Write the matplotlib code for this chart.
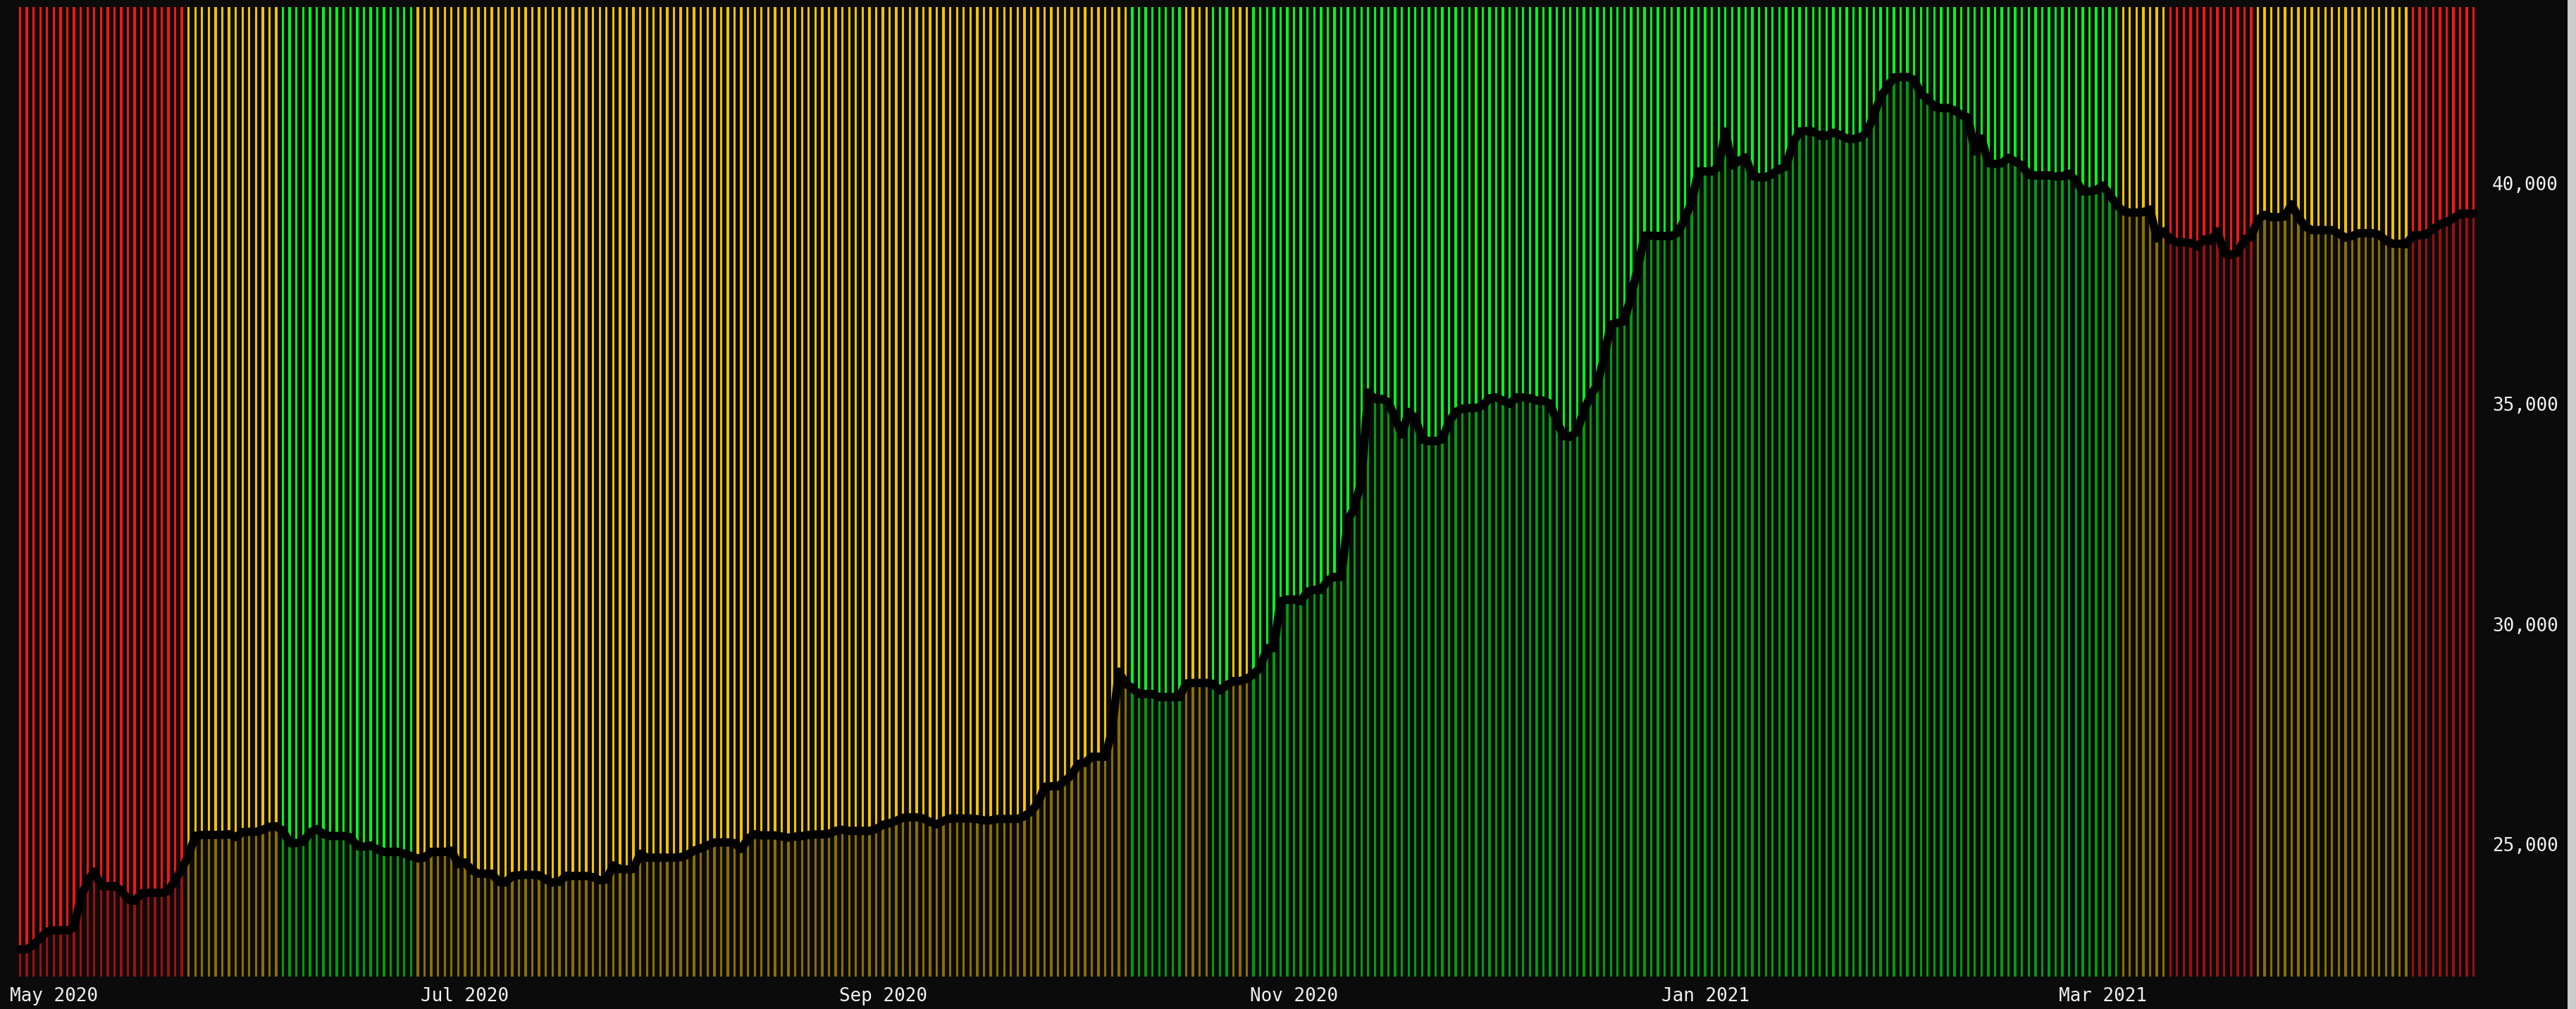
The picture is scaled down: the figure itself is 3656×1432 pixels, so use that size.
import numpy as np
import pandas as pd
import matplotlib
matplotlib.use("Agg")
import matplotlib.pyplot as plt
import matplotlib.dates as mdates
from matplotlib.patches import Rectangle

# ---------------- data ----------------
start_date = "2020-04-26"

values = [
    22620, 22620, 22720, 22880, 23020, 23050, 23050, 23050, 23110, 23800,
    24160, 24380, 24060, 24050, 24050, 23960, 23750, 23720, 23890, 23900,
    23900, 23900, 23940, 24190, 24440, 24760, 25195, 25215, 25215, 25215,
    25215, 25230, 25162, 25280, 25285, 25285, 25330, 25400, 25410, 25306,
    25029, 25029, 25056, 25269, 25349, 25231, 25189, 25189, 25189, 25162,
    24960, 24949, 24976, 24880, 24826, 24832, 24832, 24789, 24736, 24680,
    24698, 24831, 24831, 24831, 24858, 24549, 24591, 24415, 24335, 24335,
    24335, 24149, 24133, 24282, 24298, 24309, 24309, 24298, 24202, 24133,
    24149, 24288, 24282, 24282, 24282, 24255, 24186, 24202, 24522, 24442,
    24431, 24442, 24788, 24698, 24698, 24698, 24698, 24698, 24708, 24762,
    24858, 24911, 24975, 25044, 25044, 25044, 25028, 24895, 25135, 25231,
    25204, 25204, 25204, 25177, 25151, 25177, 25188, 25215, 25225, 25225,
    25241, 25305, 25332, 25305, 25305, 25305, 25305, 25348, 25444, 25481,
    25534, 25604, 25614, 25614, 25588, 25508, 25455, 25534, 25588, 25588,
    25588, 25588, 25572, 25545, 25545, 25577, 25577, 25577, 25577, 25641,
    25748, 25934, 26307, 26318, 26318, 26440, 26574, 26824, 26851, 26989,
    26989, 26989, 27586, 28919, 28652, 28545, 28412, 28412, 28412, 28343,
    28343, 28343, 28343, 28652, 28663, 28663, 28663, 28641, 28492, 28609,
    28705, 28705, 28756, 28866, 29013, 29454, 29454, 30518, 30555, 30555,
    30518, 30738, 30775, 30775, 30995, 31069, 31069, 32358, 32647, 33271,
    35253, 35106, 35106, 35033, 34666, 34301, 34813, 34666, 34189, 34152,
    34152, 34189, 34592, 34813, 34886, 34901, 34901, 34960, 35121, 35143,
    35069, 34996, 35143, 35143, 35121, 35069, 35069, 34996, 34592, 34262,
    34247, 34372, 34849, 35180, 35437, 36060, 36795, 36832, 36869, 37455,
    38079, 38813, 38813, 38805, 38805, 38805, 38885, 39204, 39577, 40270,
    40270, 40270, 40377, 41176, 40403, 40510, 40590, 40163, 40137, 40137,
    40217, 40323, 40377, 40909, 41176, 41186, 41176, 41080, 41080, 41149,
    41096, 41016, 41005, 41043, 41149, 41549, 41949, 42188, 42402, 42412,
    42412, 42348, 42028, 41922, 41735, 41709, 41709, 41655, 41549, 41496,
    40723, 41016, 40456, 40440, 40456, 40579, 40494, 40403, 40190, 40179,
    40179, 40179, 40153, 40163, 40217, 40057, 39817, 39817, 39844, 39950,
    39737, 39524, 39364, 39337, 39337, 39348, 39407, 38751, 38911, 38725,
    38661, 38661, 38645, 38565, 38725, 38698, 38911, 38405, 38378, 38432,
    38735, 38778, 39178, 39284, 39231, 39231, 39247, 39524, 39231, 39018,
    38938, 38938, 38938, 38938, 38858, 38767, 38805, 38869, 38869, 38869,
    38831, 38698, 38629, 38629, 38618, 38820, 38820, 38842, 38964, 39071,
    39124, 39204, 39311, 39311, 39311,
]

# regime of each day, as consecutive runs
regime_codes = ["R", "Y", "G", "Y", "G", "Y", "G", "Y", "G", "Y", "R", "Y", "R"]
regime_lengths = [25, 14, 20, 106, 8, 4, 3, 3, 129, 7, 13, 23, 10]

y_ticks = [25000, 30000, 35000, 40000]
y_range = (22000, 44000)

# ---------------- style ----------------
BG = "#0b0b0b"
BRIGHT = {"R": "#ff1414", "Y": "#f2c200", "G": "#00f81c"}
DARK = {"R": "#9c0f0f", "Y": "#8a6e00", "G": "#009a10"}
MONO = "DejaVu Sans Mono"

dates = pd.date_range(start_date, periods=len(values), freq="D")
regimes = np.repeat(regime_codes, regime_lengths)
x = mdates.date2num(dates.to_pydatetime())
v = np.array(values, dtype=float)

W, H, DPI = 3656, 1432, 100
fig = plt.figure(figsize=(W / DPI, H / DPI), dpi=DPI, facecolor=BG)
ax = fig.add_axes([26.6 / W, 46 / H, (3512.6 - 26.6) / W, 1376 / H])
ax.set_facecolor(BG)

bar_w = 0.35
ax.bar(x, y_range[1] - v, bottom=v, width=bar_w,
       color=[BRIGHT[r] for r in regimes], linewidth=0, zorder=1)
ax.bar(x, v - y_range[0], bottom=y_range[0], width=bar_w,
       color=[DARK[r] for r in regimes], linewidth=0, zorder=1)
ax.plot(x, v, color="black", lw=8.5, solid_joinstyle="round",
        solid_capstyle="round", zorder=3, clip_on=False)

ax.set_xlim(x[0] - 0.2, x[-1] + 0.2)
ax.set_ylim(*y_range)

ax.yaxis.tick_right()
ax.set_yticks(y_ticks)
ax.set_yticklabels([f"{t:,}" for t in y_ticks])
ax.xaxis.set_major_locator(mdates.MonthLocator(bymonth=[1, 3, 5, 7, 9, 11]))
ax.xaxis.set_major_formatter(mdates.DateFormatter("%b %Y"))
ax.tick_params(axis="both", length=0, colors="#f0f0f0", labelsize=18.7)
ax.tick_params(axis="y", pad=17.5)
ax.tick_params(axis="x", pad=11)
for lab in ax.get_xticklabels() + ax.get_yticklabels():
    lab.set_family(MONO)
for s in ax.spines.values():
    s.set_visible(False)

fig.patches.append(Rectangle((3644 / W, 0), 12 / W, 1, transform=fig.transFigure,
                             facecolor="#cbcbcb", edgecolor="none"))

fig.savefig("out.png", dpi=DPI, facecolor=BG)
